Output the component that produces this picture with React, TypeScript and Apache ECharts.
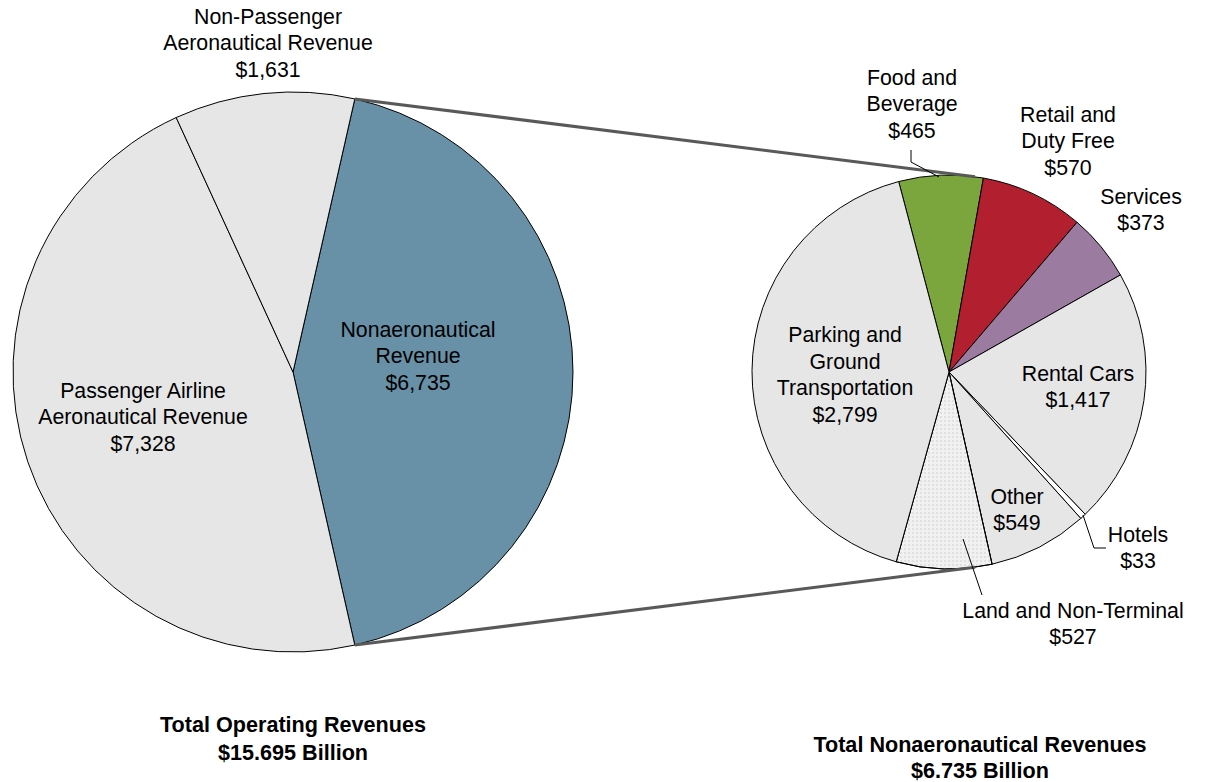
import React, { useEffect, useRef } from "react";
import * as echarts from "echarts";

// ---- Data ----
const leftNames = [
  "Nonaeronautical\nRevenue",
  "Passenger Airline\nAeronautical Revenue",
  "Non-Passenger\nAeronautical Revenue",
];
const leftValues = [6735, 7328, 1631];

const rightNames = [
  "Food and\nBeverage",
  "Retail and\nDuty Free",
  "Services",
  "Rental Cars",
  "Hotels",
  "Other",
  "Land and Non-Terminal",
  "Parking and\nGround\nTransportation",
];
const rightValues = [465, 570, 373, 1417, 33, 549, 527, 2799];

const leftTitle = "Total Operating Revenues\n$15.695 Billion";
const rightTitle = "Total Nonaeronautical Revenues\n$6.735 Billion";

// ---- Styles / layout ----
const FONT = '"Liberation Sans", Arial, sans-serif';
const leftColors = ["#6890A6", "#E6E6E6", "#E6E6E6"];
const rightColors = ["#7BA53D", "#B21F2E", "#9C7BA0", "#E6E6E6", "#FFFFFF", "#E6E6E6", "#F1F1F1", "#E6E6E6"];

const LC = [293, 372];
const LR = 280;
const RC = [949, 372];
const RR = 197;

const leftLabelPos = [
  [418, 356],
  [143, 417],
  [268, 43],
];
const rightLabelPos = [
  [912, 104],
  [1068, 141],
  [1141, 210],
  [1078, 387],
  [1138, 548],
  [1017, 510],
  [1073, 624],
  [845, 375],
];

const leaderLines = [
  [[911, 150], [911, 162], [939, 177]],
  [[1083, 515], [1094, 548], [1106, 548]],
  [[963, 539], [982, 595]],
];

function fmt(v: number) {
  return "$" + v.toLocaleString("en-US");
}

export default function App() {
  const ref = useRef<HTMLDivElement>(null);
  useEffect(() => {
    if (!ref.current) return;
    const chart = echarts.init(ref.current, undefined, { renderer: "svg" });

    const leftTotal = leftValues.reduce((a, b) => a + b, 0);
    const blueSpan = (leftValues[0] / leftTotal) * 360;
    const leftStartFromTop = (180 - blueSpan) / 2; // clockwise from 12 o'clock
    const leftStart = 90 - leftStartFromTop;
    const rightStart = 104.8;

    const pt = (c: number[], r: number, degFromTopCW: number) => {
      const a = (degFromTopCW * Math.PI) / 180;
      return [c[0] + r * Math.sin(a), c[1] - r * Math.cos(a)];
    };
    const lTop = pt(LC, LR, leftStartFromTop);
    const lBot = pt(LC, LR, leftStartFromTop + blueSpan);
    const rTop = pt(RC, RR, 7.6);
    const rBot = pt(RC, RR, 172.4);

    const labelStyle = {
      show: true,
      position: "inside" as const,
      color: "#000",
      fontFamily: FONT,
      fontSize: 21.3,
      lineHeight: 26.5,
      formatter: (p: any) => p.name + "\n" + fmt(p.value),
    };

    const option: any = {
      animation: false,
      backgroundColor: "#fff",
      series: [
        {
          type: "pie",
          center: LC,
          radius: LR,
          startAngle: leftStart,
          clockwise: true,
          silent: true,
          avoidLabelOverlap: false,
          label: labelStyle,
          labelLine: { show: false },
          labelLayout: (params: any) => {
            const p = leftLabelPos[params.dataIndex];
            return { x: p[0], y: p[1], align: "center", verticalAlign: "middle" };
          },
          itemStyle: { borderColor: "#000", borderWidth: 1 },
          emphasis: { disabled: true },
          data: leftNames.map((n, i) => ({
            name: n,
            value: leftValues[i],
            itemStyle: { color: leftColors[i] },
          })),
        },
        {
          type: "pie",
          center: RC,
          radius: RR,
          startAngle: rightStart,
          clockwise: true,
          silent: true,
          avoidLabelOverlap: false,
          label: labelStyle,
          labelLine: { show: false },
          labelLayout: (params: any) => {
            const p = rightLabelPos[params.dataIndex];
            return { x: p[0], y: p[1], align: "center", verticalAlign: "middle" };
          },
          itemStyle: { borderColor: "#000", borderWidth: 1 },
          emphasis: { disabled: true },
          data: rightNames.map((n, i) => ({
            name: n,
            value: rightValues[i],
            itemStyle:
              i === 6
                ? {
                    color: rightColors[i],
                    decal: {
                      symbol: "circle",
                      symbolSize: 0.6,
                      color: "rgba(170,170,170,0.7)",
                      dashArrayX: [2, 2],
                      dashArrayY: [2, 2],
                      backgroundColor: "#F1F1F1",
                    },
                  }
                : { color: rightColors[i] },
          })),
        },
      ],
      graphic: [
        {
          type: "line",
          z: 100,
          shape: { x1: lTop[0], y1: lTop[1], x2: rTop[0], y2: rTop[1] },
          style: { stroke: "#595959", lineWidth: 3 },
          silent: true,
        },
        {
          type: "line",
          z: 100,
          shape: { x1: lBot[0], y1: lBot[1], x2: rBot[0], y2: rBot[1] },
          style: { stroke: "#595959", lineWidth: 3 },
          silent: true,
        },
        ...leaderLines.map((pts) => ({
          type: "polyline",
          z: 100,
          shape: { points: pts },
          style: { stroke: "#000", lineWidth: 1, fill: null },
          silent: true,
        })),
        {
          type: "text",
          x: 293,
          y: 738,
          z: 100,
          style: {
            text: leftTitle,
            align: "center",
            verticalAlign: "middle",
            textAlign: "center",
            textVerticalAlign: "middle",
            fontFamily: FONT,
            fontSize: 21.6,
            fontWeight: "bold",
            lineHeight: 28,
            fill: "#000",
          },
        },
        {
          type: "text",
          x: 980,
          y: 757,
          z: 100,
          style: {
            text: rightTitle,
            align: "center",
            verticalAlign: "middle",
            textAlign: "center",
            textVerticalAlign: "middle",
            fontFamily: FONT,
            fontSize: 21.6,
            fontWeight: "bold",
            lineHeight: 26,
            fill: "#000",
          },
        },
      ],
    };
    chart.setOption(option);
    return () => chart.dispose();
  }, []);

  return (
    <div
      ref={ref}
      style={{ position: "absolute", left: 0, top: 0, width: 1206, height: 782 }}
    />
  );
}
